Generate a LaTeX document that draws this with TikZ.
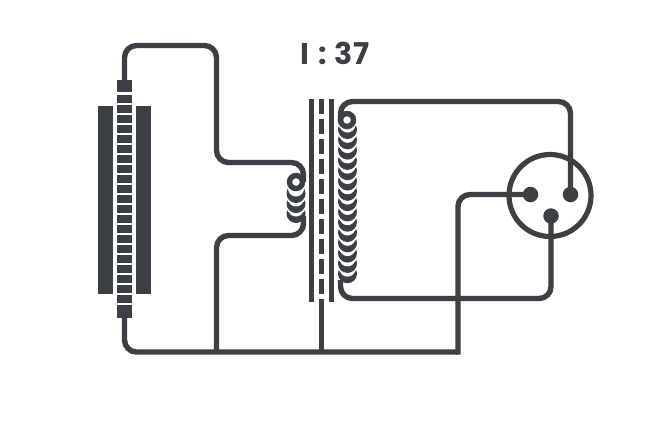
\documentclass[tikz,border=0pt]{standalone}
\usepackage{fontspec}
\setmainfont{Poppins}[UprightFont=*-SemiBold,BoldFont=*-Bold]
\definecolor{ink}{HTML}{3C4045}
\tikzset{
  wire/.style={draw=ink,line width=5.4pt,line cap=butt,rounded corners=#1},
  wire/.default=12pt,
  coil ring/.style={circle,draw=ink,fill=white,line width=5.4pt,minimum size=13pt,inner sep=0pt,outer sep=0pt},
  pin/.style={circle,fill=ink,minimum size=15.5pt,inner sep=0pt,outer sep=0pt},
  core line/.style={draw=ink,line width=5.2pt},
}
\newcommand{\coilturn}[2]{%
  \fill[white] (#1,#2) circle[radius=11.2pt];
  \fill[ink] (#1,#2) circle[radius=9.5pt];
  \fill[white] (#1,#2-5) circle[radius=8pt];
}
\begin{document}
\begin{tikzpicture}[x=1pt,y=-1pt]
\useasboundingbox (0,0) rectangle (660,437);
% outer pole pieces
\fill[ink] (98,106) rectangle (113,294);
\fill[ink] (136,106) rectangle (151,294);
% ladder
\fill[ink] (117,80) rectangle (132,92);
\foreach \k in {0,...,20} \fill[ink] (117,95+10*\k) rectangle (132,102.5+10*\k);
\fill[ink] (117,305) rectangle (132,318);
% named points
\coordinate (ladderTop) at (124.5,80);
\coordinate (ladderBot) at (124.5,318);
\coordinate (gndA) at (216.5,352);
\coordinate (gndB) at (321.5,352);
\coordinate (gndC) at (458,352);
\coordinate (coreBot) at (321.5,299);
% left coil
\foreach \y in {213.5,203.5,193.5} \coilturn{296}{\y}
\fill[white] (296,182) circle[radius=10.5pt];
\node[coil ring] (ringL) at (296,182) {};
% right coil
\foreach \k in {14,13,...,0} \coilturn{347.5}{129.5+10.3*\k}
\fill[white] (347,120) circle[radius=10.5pt];
\node[coil ring] (ringR) at (347,120) {};
% core
\draw[core line] (311.5,99) -- (311.5,302);
\draw[core line] (331.5,99) -- (331.5,302);
\foreach \k in {0,...,9} \fill[ink] (319,99+20*\k) rectangle (324,114+20*\k);
% connector
\node[circle,draw=ink,line width=5.2pt,minimum size=82pt,inner sep=0pt] (xlr) at (550,195.5) {};
\node[pin] (p1) at (530.5,194.5) {};
\node[pin] (p2) at (570.5,194.5) {};
\node[pin] (p3) at (551,216) {};
% wires
\draw[wire] (ladderTop) -- (124.5,45.5) -- (216.5,45.5) -- (216.5,162.5) -- (303.5,162.5) -- (303.5,182);
\draw[wire] (gndA) -- (216.5,235.5) -- (303.5,235.5) -- (303.5,216);
\draw[wire] (ladderBot) -- (124.5,352) -- (458,352);
\draw[draw=ink,line width=5.4pt] (458,354.7) -- (458,205) [rounded corners=12pt] -- (458,194.5) -- (p1.center);
\draw[wire] (coreBot) -- (gndB);
\draw[wire] (340.5,122) -- (340.5,101.5) -- (570.5,101.5) -- (p2.center);
\draw[wire] (340.5,280) -- (340.5,298.5) -- (551,298.5) -- (p3.center);
% ratio
\node[text=ink,font=\bfseries\fontsize{30}{30}\selectfont,inner sep=0pt] (ratio) at (335,53.5) {I\hspace{2pt} :\hspace{2pt} 37};
\end{tikzpicture}
\end{document}
